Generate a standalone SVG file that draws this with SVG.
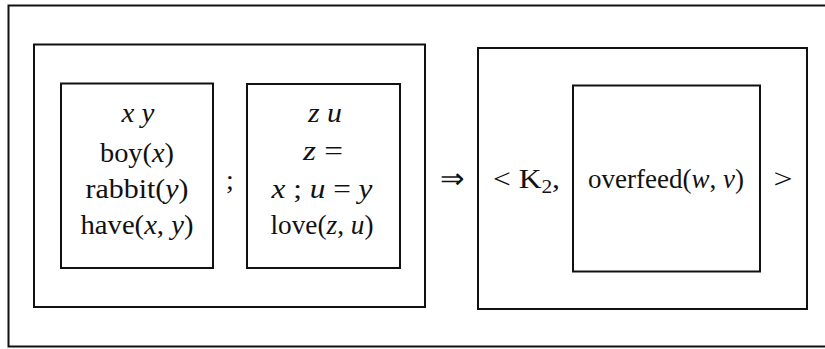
<svg xmlns="http://www.w3.org/2000/svg" width="825" height="349" viewBox="0 0 825 349">
<style>
.box{fill:none;stroke:#111;stroke-width:2}
.t{font-family:"Liberation Serif","Times New Roman",serif;font-size:28px;fill:#111;text-anchor:middle}
.i{font-style:italic}
</style>
<rect width="825" height="349" fill="#fff"/>
<g id="outer"><path class="box" d="M830 5.5 H8.5 V346.5 H830"/></g>
<g id="drs-left">
<rect class="box" x="34" y="44.5" width="391" height="262.5"/>
<g id="box1">
<rect class="box" x="61" y="83.5" width="152" height="184.5"/>
<text class="t i" x="138" y="122" textLength="33" lengthAdjust="spacingAndGlyphs">x y</text>
<text class="t" x="137" y="162" textLength="74" lengthAdjust="spacingAndGlyphs">boy(<tspan class="i">x</tspan>)</text>
<text class="t" x="137" y="198" textLength="103" lengthAdjust="spacingAndGlyphs">rabbit(<tspan class="i">y</tspan>)</text>
<text class="t" x="137" y="234" textLength="113" lengthAdjust="spacingAndGlyphs">have(<tspan class="i">x</tspan>, <tspan class="i">y</tspan>)</text>
</g>
<text class="t" x="230" y="189">;</text>
<g id="box2">
<rect class="box" x="247" y="84" width="153" height="184"/>
<text class="t i" x="325" y="122" textLength="34" lengthAdjust="spacingAndGlyphs">z u</text>
<text class="t" x="323" y="160" textLength="40" lengthAdjust="spacingAndGlyphs"><tspan class="i">z</tspan> =</text>
<text class="t" x="322" y="198" textLength="101" lengthAdjust="spacingAndGlyphs"><tspan class="i">x</tspan> ; <tspan class="i">u</tspan> = <tspan class="i">y</tspan></text>
<text class="t" x="322" y="234" textLength="103" lengthAdjust="spacingAndGlyphs">love(<tspan class="i">z</tspan>, <tspan class="i">u</tspan>)</text>
</g>
</g>
<text class="t" x="452" y="188" textLength="24" lengthAdjust="spacingAndGlyphs">⇒</text>
<g id="drs-right">
<rect class="box" x="478" y="48" width="329" height="261"/>
<text class="t" x="493" y="188" style="text-anchor:start" textLength="67" lengthAdjust="spacingAndGlyphs">&lt; K<tspan font-size="19" dy="5">2</tspan><tspan dy="-5">,</tspan></text>
<g id="box3">
<rect class="box" x="573" y="85.5" width="187" height="186"/>
<text class="t" x="666" y="188" style="font-size:27px">overfeed(<tspan class="i">w</tspan>, <tspan class="i">v</tspan>)</text>
</g>
<text class="t" x="783" y="188" textLength="19" lengthAdjust="spacingAndGlyphs">&gt;</text>
</g>
</svg>
